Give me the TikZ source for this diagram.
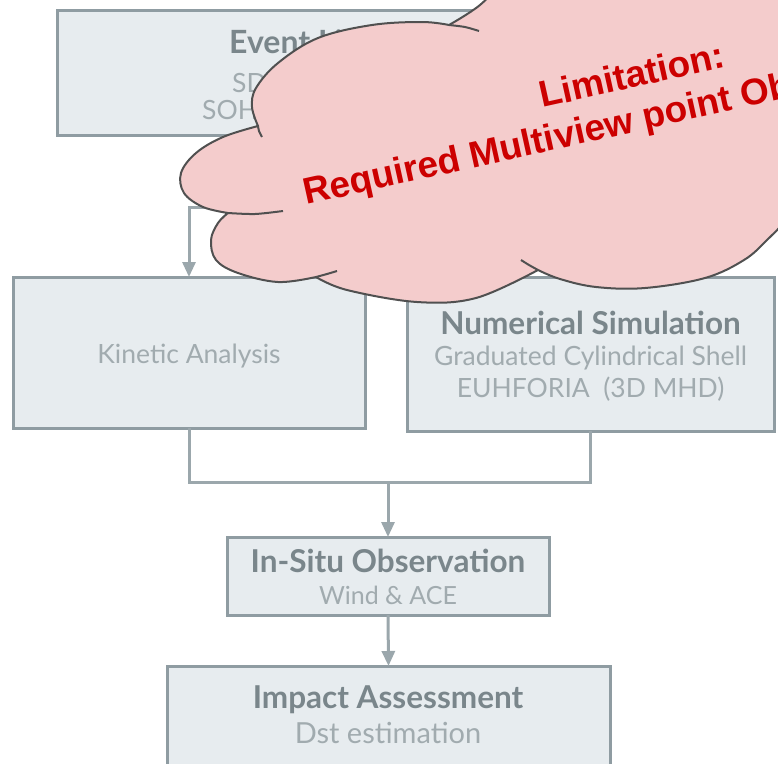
\documentclass[tikz,border=0pt]{standalone}
\usepackage{fontspec}
\setmainfont{Lato}
\newfontfamily\calloutfont{Liberation Sans}
\usetikzlibrary{arrows.meta}

\definecolor{boxfill}{HTML}{E7ECEF}
\definecolor{boxline}{HTML}{8F9CA2}
\definecolor{headgray}{HTML}{7A868B}
\definecolor{subgray}{HTML}{A1ABAF}
\definecolor{linkgray}{HTML}{9BA7AC}
\definecolor{cloudfill}{HTML}{F4CCCC}
\definecolor{cloudline}{HTML}{505050}
\definecolor{alertred}{HTML}{CC0000}

\begin{document}
\begin{tikzpicture}[x=1pt,y=-1pt,
  stage/.style={draw=boxline, fill=boxfill, line width=3pt, inner sep=0pt, outer sep=0pt},
  headtext/.style={font=\bfseries\fontsize{31.5}{31.5}\selectfont, text=headgray, inner sep=0pt, anchor=base},
  bighead/.style={font=\bfseries\fontsize{32}{32}\selectfont, text=headgray, inner sep=0pt, anchor=base west},
  subtext/.style={font=\fontsize{26.5}{26.5}\selectfont, text=subgray, inner sep=0pt, anchor=base},
  link/.style={draw=linkgray, line width=3pt},
  flow/.style={link, -{Triangle[length=15pt,width=13pt]}},
  puff/.style={draw=cloudline, line width=2pt, line join=round},
  callouttext/.style={font=\calloutfont\bfseries\fontsize{37}{37}\selectfont, text=alertred, rotate=12.5, inner sep=0pt, anchor=base west}
]
\useasboundingbox (0,0) rectangle (778,763);

% process stages
\node[stage, minimum width=492pt, minimum height=125pt] (evt) at (303,72.5) {};
\node[stage, minimum width=352pt, minimum height=151pt] (kin) at (189,352.5) {};
\node[stage, minimum width=367pt, minimum height=154pt] (num) at (590.5,354) {};
\node[stage, minimum width=322pt, minimum height=78pt] (ins) at (388,576) {};
\node[stage, minimum width=443pt, minimum height=124pt] (imp) at (388.5,728) {};

% stage labels
\node[bighead] (evttitle) at (229,53) {Event List};
\node[subtext, anchor=base west] (evtsdo) at (232,92) {SDO};
\node[subtext, anchor=base west] (evtsoho) at (202,119) {SOHO};

\node[subtext] (kintext) at (189,363) {Kinetic Analysis};

\node[headtext] (numtitle) at (590.5,334) {Numerical Simulation};
\node[subtext] (numgcs) at (590.5,365.5) {Graduated Cylindrical Shell};
\node[subtext] (numeuh) at (590.5,397) {EUHFORIA\ \ (3D MHD)};

\node[headtext] (institle) at (388,572) {In-Situ Observation};
\node[subtext, font=\fontsize{25}{25}\selectfont] (inssub) at (388,604) {Wind \& ACE};

\node[headtext] (imptitle) at (388,708) {Impact Assessment};
\node[subtext, font=\fontsize{29}{29}\selectfont] (impsub) at (388,743) {Dst estimation};

% connectors
\coordinate (split) at (303,207);
\coordinate (merge) at (388,482);
\draw[link] (evt.south) -- (split);
\draw[flow] (split) -| (kin.north);
\draw[flow] (split) -| (num.north);
\draw[link] (kin.south) |- (merge);
\draw[link] (num.south) |- (merge);
\draw[flow] (merge) -- (ins.north);
\draw[flow] (ins.south) -- (imp.north);

% callout cloud
\begin{scope}
  \clip (0,0) rectangle (778,763);
  \filldraw[puff, fill=cloudfill]
    plot[smooth, tension=0.6] coordinates {(560,-60) (510,-25) (480,5) (449,25)}
    -- plot[smooth, tension=0.6] coordinates {(449,25) (422,22) (372,25) (318,38) (278,63) (256,88) (252,107) (258,126)}
    -- plot[smooth, tension=0.6] coordinates {(258,126) (223,137) (196,153) (181,173) (184,193) (203,207) (228,213)}
    -- plot[smooth, tension=0.6] coordinates {(228,213) (218,223) (211,240) (216,260) (238,273) (278,282) (316,277)}
    -- plot[smooth, tension=0.6] coordinates {(316,277) (347,290) (417,302) (476,298) (538,270)}
    -- plot[smooth, tension=0.6] coordinates {(538,270) (560,279) (596,287) (645,288) (705,278) (744,260) (767,240) (790,215) (810,180)}
    -- (830,100) -- (830,-60) -- cycle;
  % inner arcs where the puffs overlap
  \draw[puff] plot[smooth] coordinates {(449,25) (465,27) (479,31)};
  \draw[puff] plot[smooth] coordinates {(258,126) (259,131) (262,137)};
  \draw[puff] plot[smooth] coordinates {(228,213) (255,214) (283,211)};
  \draw[puff] plot[smooth] coordinates {(316,277) (327,274) (337,271)};
  \draw[puff] plot[smooth] coordinates {(538,270) (529,265) (521,260)};
  % callout text
  \node[callouttext] (limit) at (542,108) {Limitation:};
  \node[callouttext] (need) at (306,205) {Required Multiview point Observation};
\end{scope}
\end{tikzpicture}
\end{document}
